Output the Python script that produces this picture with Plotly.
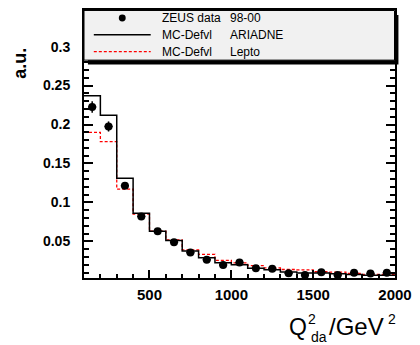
import plotly.graph_objects as go

# ---- data ----
bin_edges = [100, 200, 300, 400, 500, 600, 700, 800, 900, 1000, 1100, 1200,
             1300, 1400, 1500, 1600, 1700, 1800, 1900, 2000]
ariadne = [0.237, 0.212, 0.131, 0.086, 0.063, 0.051, 0.0377, 0.029, 0.0225,
           0.020, 0.0155, 0.0135, 0.0108, 0.0095, 0.0095, 0.0085, 0.0075,
           0.0066, 0.0066]
lepto = [0.190, 0.178, 0.117, 0.085, 0.063, 0.052, 0.039, 0.0334, 0.0255,
         0.0225, 0.019, 0.016, 0.0139, 0.0135, 0.011, 0.0105, 0.0088,
         0.0075, 0.0075]
data_x = [150, 250, 350, 450, 550, 650, 750, 850, 950, 1050, 1150, 1250,
          1350, 1450, 1550, 1650, 1750, 1850, 1950]
data_y = [0.2225, 0.1975, 0.1214, 0.082, 0.063, 0.049, 0.0356, 0.0265,
          0.0198, 0.0228, 0.0155, 0.0148, 0.0092, 0.0068, 0.0105, 0.0068,
          0.0098, 0.0088, 0.0098]
data_err = [0.0075, 0.0065, 0.004, 0.003, 0.0025, 0.0022, 0.002, 0.0018,
            0.0017, 0.0016, 0.0015, 0.0014, 0.0013, 0.0012, 0.0012, 0.0011,
            0.0011, 0.001, 0.001]
x_tickvals = [500, 1000, 1500, 2000]
y_tickvals = [0.05, 0.1, 0.15, 0.2, 0.25, 0.3]
y_ticktext = ["0.05", "0.1", "0.15", "0.2", "0.25", "0.3"]

W, H = 420, 345
L, R, T, B = 84, 401, 8, 278


def px(x):
    return (x - L) / (R - L)


def py(y):
    return (B - y) / (B - T)


fig = go.Figure()

fig.add_trace(go.Scatter(
    x=bin_edges, y=lepto + [lepto[-1]], mode="lines", line_shape="hv",
    line=dict(color="#ff0000", width=1.3, dash="3px,2px"),
    showlegend=False, hoverinfo="skip"))
fig.add_trace(go.Scatter(
    x=bin_edges, y=ariadne + [ariadne[-1]], mode="lines", line_shape="hv",
    line=dict(color="black", width=1.5), showlegend=False, hoverinfo="skip"))
fig.add_trace(go.Scatter(
    x=data_x, y=data_y, mode="markers",
    marker=dict(color="black", size=8, symbol="circle"),
    error_y=dict(type="data", array=data_err, color="black", thickness=1.5,
                 width=0),
    error_x=dict(type="constant", value=25, color="black", thickness=1.5,
                 width=0),
    showlegend=False))

font = "Liberation Sans, Arial, sans-serif"

fig.update_layout(
    width=W, height=H, margin=dict(l=L, r=W - R, t=T, b=H - B),
    paper_bgcolor="white", plot_bgcolor="white", showlegend=False,
    xaxis=dict(range=[100, 2000], tickvals=x_tickvals,
               ticktext=[str(v) for v in x_tickvals],
               ticks="inside", ticklen=8, tickwidth=1.5, tickcolor="black",
               showline=True, linecolor="black", linewidth=2, mirror="ticks",
               showgrid=False, zeroline=False, ticklabelstandoff=2,
               minor=dict(dtick=100, tick0=0, ticks="inside", ticklen=4,
                          tickwidth=1.5, tickcolor="black", showgrid=False),
               tickfont=dict(family=font, size=15, color="black",
                             weight="bold")),
    yaxis=dict(range=[0.003, 0.347], tickvals=y_tickvals, ticktext=y_ticktext,
               ticks="inside", ticklen=9, tickwidth=1.5, tickcolor="black",
               showline=True, linecolor="black", linewidth=2, mirror="ticks",
               showgrid=False, zeroline=False, ticklabelstandoff=9,
               minor=dict(dtick=0.01, tick0=0, ticks="inside", ticklen=5,
                          tickwidth=1.5, tickcolor="black", showgrid=False),
               tickfont=dict(family=font, size=14, color="black",
                             weight="bold")),
)

shapes = []
# legend shadow and box
shapes.append(dict(type="rect", xref="paper", yref="paper",
                   x0=px(88), x1=px(404.5), y0=py(63), y1=py(13),
                   fillcolor="black", line=dict(width=0)))
shapes.append(dict(type="rect", xref="paper", yref="paper",
                   x0=px(84), x1=px(400.5), y0=py(58.5), y1=py(8.5),
                   fillcolor="#f1f1f1", line=dict(color="black", width=1)))
# legend glyphs
shapes.append(dict(type="circle", xref="paper", yref="paper",
                   x0=px(119.5), x1=px(126.5), y0=py(19.5), y1=py(12.5),
                   fillcolor="black", line=dict(color="black", width=0)))
shapes.append(dict(type="line", xref="paper", yref="paper",
                   x0=px(94), x1=px(152), y0=py(33), y1=py(33),
                   line=dict(color="black", width=1.5)))
shapes.append(dict(type="line", xref="paper", yref="paper",
                   x0=px(94), x1=px(152), y0=py(50), y1=py(50),
                   line=dict(color="#ff0000", width=1.3, dash="3px,2px")))

annotations = []


def text(s, x, y, size=12, xanchor="left", yanchor="middle", weight="normal"):
    annotations.append(dict(text=s, x=px(x), y=py(y), xref="paper",
                            yref="paper", showarrow=False, xanchor=xanchor,
                            yanchor=yanchor,
                            font=dict(family=font, size=size, color="black",
                                      weight=weight)))


text("ZEUS data", 161, 16)
text("98-00", 231, 16)
text("MC-Defvl", 161, 33)
text("ARIADNE", 231, 33)
text("MC-Defvl", 161, 50)
text("Lepto", 231, 50)

# y-axis title
annotations.append(dict(text="a.u.", x=px(18), y=py(62), xref="paper",
                        yref="paper", showarrow=False, textangle=-90,
                        xanchor="center", yanchor="middle",
                        font=dict(family=font, size=18, color="black",
                                  weight="bold")))
# x-axis title pieces
text("Q", 291, 327, size=23)
text("2", 310, 319, size=14)
text("da", 313, 337, size=14)
text("/GeV", 332, 327, size=24)
text("2", 392, 319, size=14)

fig.update_layout(shapes=shapes, annotations=annotations)

fig.write_html("out.html")
